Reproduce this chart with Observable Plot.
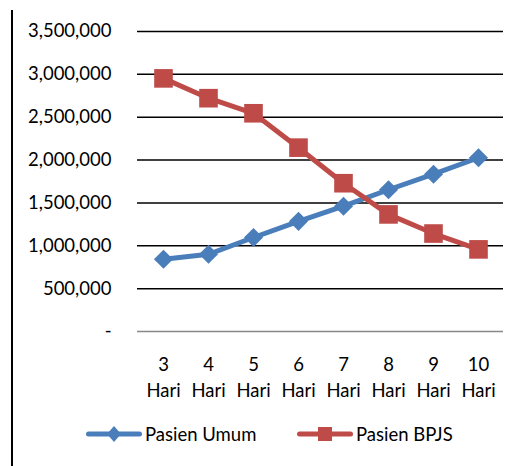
<!DOCTYPE html>
<html><head><meta charset="utf-8">
<script src="https://cdn.jsdelivr.net/npm/d3@7"></script>
<script src="https://cdn.jsdelivr.net/npm/@observablehq/plot@0.6"></script>
<style>
body{margin:0;background:#fff;font-family:Lato,sans-serif;}
#wrap{position:relative;width:513px;height:466px;overflow:hidden;background:#fff;}
#vline{position:absolute;left:11px;top:10px;width:2px;bottom:0;background:#000;}
#chart{position:absolute;left:0;top:0;}
.leg{position:absolute;top:423px;display:flex;align-items:center;font-size:18.5px;color:#000;white-space:nowrap;}
.leg svg{margin-right:3px;}
</style>
</head><body>
<div id="wrap"><div id="chart"></div><div id="vline"></div><div id="legend"></div></div>
<script>
const days = [3, 4, 5, 6, 7, 8, 9, 10];
const dayUnit = "Hari";
const pasienUmum = [843000, 901000, 1097000, 1285000, 1462000, 1654000, 1835000, 2027000];
const pasienBPJS = [2953000, 2722000, 2546000, 2145000, 1730000, 1366000, 1143000, 958000];
const seriesNames = ["Pasien Umum", "Pasien BPJS"];
const seriesColors = ["#4A7EBB", "#BE4B48"];
const yTicks = [0, 500000, 1000000, 1500000, 2000000, 2500000, 3000000, 3500000];

const rows = [];
days.forEach((d, i) => {
  rows.push({day: d, value: pasienUmum[i], series: seriesNames[0]});
  rows.push({day: d, value: pasienBPJS[i], series: seriesNames[1]});
});
const umum = rows.filter(r => r.series === seriesNames[0]);
const bpjs = rows.filter(r => r.series === seriesNames[1]);
const fmt = d3.format(",");

const chart = Plot.plot({
  width: 513,
  height: 410,
  marginLeft: 137,
  marginRight: 10,
  marginTop: 31,
  marginBottom: 79,
  style: {fontFamily: "Lato, sans-serif", fontSize: "18.5px", color: "#000", background: "transparent"},
  x: {type: "point", domain: days, padding: 0.5},
  y: {domain: [0, 3500000]},
  marks: [
    Plot.ruleY(yTicks.filter(t => t > 0), {stroke: "#000", strokeWidth: 1.5}),
    Plot.ruleY([0], {stroke: "#888", strokeWidth: 1.5}),
    Plot.axisY({ticks: yTicks, tickSize: 0, tickPadding: 26, tickFormat: d => d === 0 ? "-" : fmt(d), label: null, fill: "#000", fontSize: 18.5}),
    Plot.axisX({tickSize: 0, tickPadding: 20, tickFormat: d => `${d}\n${dayUnit}`, lineHeight: 1.45, label: null, fill: "#000", fontSize: 18.5}),
    Plot.line(umum, {x: "day", y: "value", stroke: seriesColors[0], strokeWidth: 5}),
    Plot.line(bpjs, {x: "day", y: "value", stroke: seriesColors[1], strokeWidth: 5}),
    Plot.dot(umum, {x: "day", y: "value", symbol: "diamond2", r: 8.6, fill: seriesColors[0], stroke: "none"}),
    Plot.dot(bpjs, {x: "day", y: "value", symbol: "square", r: 10.5, fill: seriesColors[1], stroke: "none"})
  ]
});
document.getElementById("chart").appendChild(chart);

// legend
const legend = document.getElementById("legend");
const legLeft = [86, 297];
seriesNames.forEach((name, i) => {
  const div = document.createElement("div");
  div.className = "leg";
  div.style.left = legLeft[i] + "px";
  const marker = i === 0
    ? `<polygon points="28,3 35,11 28,19 21,11" fill="${seriesColors[i]}"/>`
    : `<rect x="21" y="4" width="14" height="14" fill="${seriesColors[i]}"/>`;
  div.innerHTML = `<svg width="56" height="22"><line x1="2.5" y1="11" x2="53.5" y2="11" stroke="${seriesColors[i]}" stroke-width="5" stroke-linecap="round"/>${marker}</svg><span>${name}</span>`;
  legend.appendChild(div);
});
</script>
</body></html>
